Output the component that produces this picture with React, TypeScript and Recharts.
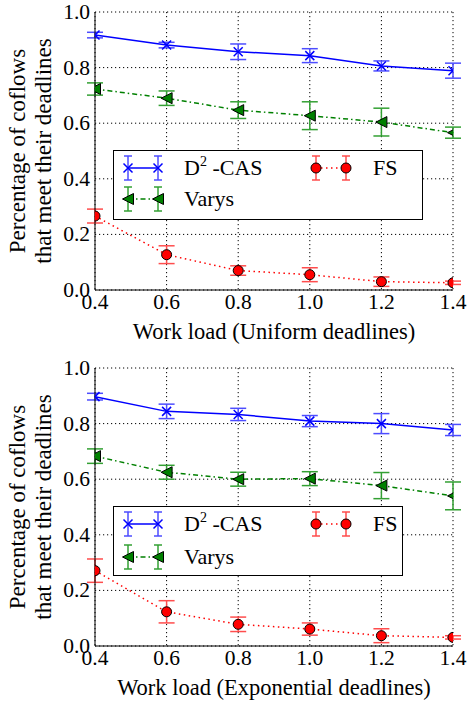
import React from 'react';
import { LineChart, Line, XAxis, YAxis, CartesianGrid, ErrorBar, Legend, Label } from 'recharts';

const FONT = "'Liberation Serif', 'Times New Roman', serif";

const loads = [0.4, 0.6, 0.8, 1.0, 1.2, 1.4];
const xTicks = [0.4, 0.6, 0.8, 1.0, 1.2, 1.4];
const yTicks = [0, 0.2, 0.4, 0.6, 0.8, 1.0];

// uniform deadlines
const uniCas = [0.917, 0.881, 0.857, 0.843, 0.806, 0.789];
const uniCasErr = [0.01, 0.01, 0.028, 0.025, 0.018, 0.027];
const uniVarys = [0.723, 0.69, 0.647, 0.627, 0.604, 0.566];
const uniVarysErr = [0.022, 0.026, 0.03, 0.05, 0.05, 0.02];
const uniFs = [0.266, 0.127, 0.07, 0.055, 0.03, 0.026];
const uniFsErr = [0.025, 0.032, 0.017, 0.025, 0.017, 0.006];

// exponential deadlines
const expCas = [0.897, 0.844, 0.833, 0.809, 0.8, 0.777];
const expCasErr = [0.012, 0.026, 0.022, 0.02, 0.036, 0.02];
const expVarys = [0.683, 0.625, 0.6, 0.602, 0.577, 0.54];
const expVarysErr = [0.026, 0.025, 0.025, 0.025, 0.047, 0.05];
const expFs = [0.271, 0.123, 0.078, 0.061, 0.037, 0.031];
const expFsErr = [0.042, 0.04, 0.026, 0.022, 0.025, 0.006];

const BLUE = '#0000ff';
const GREEN = '#008000';
const RED = '#ff0000';
const BLUE_ERR = '#4d4dff';
const GREEN_ERR = '#33a033';
const RED_ERR = '#ff4d4d';

const buildData = (cas: number[], casErr: number[], varys: number[], varysErr: number[], fs: number[], fsErr: number[]) =>
  loads.map((load, i) => ({
    load,
    cas: cas[i],
    casErr: casErr[i],
    varys: varys[i],
    varysErr: varysErr[i],
    fs: fs[i],
    fsErr: fsErr[i],
  }));

const uniformData = buildData(uniCas, uniCasErr, uniVarys, uniVarysErr, uniFs, uniFsErr);
const expData = buildData(expCas, expCasErr, expVarys, expVarysErr, expFs, expFsErr);

const textStyle: React.CSSProperties = { fontFamily: FONT, fill: '#000' };

// marker shapes
const crossPath = (cx: number, cy: number, s: number) =>
  `M${cx - s},${cy - s}L${cx + s},${cy + s}M${cx - s},${cy + s}L${cx + s},${cy - s}`;

const CrossDot = (props: any) => {
  const { cx, cy, index } = props;
  if (cx == null || cy == null) return <g key={`x-${index}`} />;
  return <path key={`x-${index}`} d={crossPath(cx, cy, 4.5)} stroke={BLUE} strokeWidth={1.5} fill="none" />;
};

const triPoints = (cx: number, cy: number, s: number) =>
  `${cx - s},${cy} ${cx + s},${cy - s} ${cx + s},${cy + s}`;

const TriDot = (props: any) => {
  const { cx, cy, index } = props;
  if (cx == null || cy == null) return <g key={`t-${index}`} />;
  return <polygon key={`t-${index}`} points={triPoints(cx, cy, 5.5)} fill={GREEN} stroke="#000" strokeWidth={1} />;
};

const CircleDot = (props: any) => {
  const { cx, cy, index } = props;
  if (cx == null || cy == null) return <g key={`c-${index}`} />;
  return <circle key={`c-${index}`} cx={cx} cy={cy} r={5} fill={RED} stroke="#000" strokeWidth={1} />;
};

const XTick = (props: any) => {
  const { x, y, payload } = props;
  return (
    <text x={x} y={y + 19} textAnchor="middle" style={{ ...textStyle, fontSize: 21.5 }}>
      {Number(payload.value).toFixed(1)}
    </text>
  );
};

const YTick = (props: any) => {
  const { x, y, payload } = props;
  return (
    <text x={x} y={y + 7} textAnchor="end" style={{ ...textStyle, fontSize: 21.5 }}>
      {Number(payload.value).toFixed(1)}
    </text>
  );
};

// legend sample: line with two markers and two error bars
function Sample({ kind }: { kind: 'cas' | 'varys' | 'fs' }) {
  const a = 10;
  const b = 40;
  const y = 15;
  const color = kind === 'cas' ? BLUE : kind === 'varys' ? GREEN : RED;
  const errColor = kind === 'cas' ? BLUE_ERR : kind === 'varys' ? GREEN_ERR : RED_ERR;
  const dash = kind === 'cas' ? undefined : kind === 'varys' ? '5 3 1.5 3' : '1.5 3.5';
  return (
    <svg width={50} height={30} style={{ display: 'block' }}>
      <line x1={a} y1={y} x2={b} y2={y} stroke={color} strokeWidth={1.5} strokeDasharray={dash} />
      {[a, b].map((x) => (
        <g key={x}>
          <line x1={x} y1={y - 12} x2={x} y2={y + 12} stroke={errColor} strokeWidth={1.5} />
          <line x1={x - 4} y1={y - 12} x2={x + 4} y2={y - 12} stroke={errColor} strokeWidth={1.5} />
          <line x1={x - 4} y1={y + 12} x2={x + 4} y2={y + 12} stroke={errColor} strokeWidth={1.5} />
          {kind === 'cas' && <path d={crossPath(x, y, 4.5)} stroke={BLUE} strokeWidth={1.5} />}
          {kind === 'varys' && <polygon points={triPoints(x, y, 5.5)} fill={GREEN} stroke="#000" />}
          {kind === 'fs' && <circle cx={x} cy={y} r={5} fill={RED} stroke="#000" />}
        </g>
      ))}
    </svg>
  );
}

function LegendBox({ width, row1, row2 }: { width: number; row1: number; row2: number }) {
  const text: React.CSSProperties = {
    position: 'absolute',
    fontFamily: FONT,
    fontSize: 22,
    lineHeight: '26px',
    color: '#000',
    whiteSpace: 'nowrap',
  };
  return (
    <div
      style={{
        position: 'relative',
        width,
        height: 70,
        boxSizing: 'border-box',
        border: '1px solid #000',
        background: '#fff',
      }}
    >
      <div style={{ position: 'absolute', left: 4, top: row1 - 15 }}><Sample kind="cas" /></div>
      <div style={{ ...text, left: 70, top: row1 - 13 }}>
        D<sup style={{ fontSize: 14, verticalAlign: 'top', lineHeight: '14px' }}>2</sup> -CAS
      </div>
      <div style={{ position: 'absolute', left: 4, top: row2 - 15 }}><Sample kind="varys" /></div>
      <div style={{ ...text, left: 70, top: row2 - 13 }}>Varys</div>
      <div style={{ position: 'absolute', left: 192, top: row1 - 15 }}><Sample kind="fs" /></div>
      <div style={{ ...text, left: 259, top: row1 - 13 }}>FS</div>
    </div>
  );
}

const YLabel = (props: any) => {
  const vb = props.viewBox || { x: 0, y: 0, width: 95, height: 278 };
  const cy = vb.y + vb.height / 2;
  const style = { ...textStyle, fontSize: 23 };
  return (
    <g>
      <text transform={`translate(25, ${cy}) rotate(-90)`} textAnchor="middle" style={style}>
        Percentage of coflows
      </text>
      <text transform={`translate(51, ${cy}) rotate(-90)`} textAnchor="middle" style={style}>
        that meet their deadlines
      </text>
    </g>
  );
};

const XLabel = (props: any) => {
  const vb = props.viewBox || { x: 95, y: 290, width: 358, height: 60 };
  return (
    <text x={vb.x + vb.width / 2} y={vb.y + 49} textAnchor="middle" style={{ ...textStyle, fontSize: 22.5 }}>
      {props.text}
    </text>
  );
};

interface PanelProps {
  data: any[];
  xlabel: string;
  height: number;
  marginTop: number;
  legendTop: number;
  legendWidth: number;
  row1: number;
  row2: number;
}

function Panel({ data, xlabel, height, marginTop, legendTop, legendWidth, row1, row2 }: PanelProps) {
  return (
    <LineChart width={467} height={height} data={data} margin={{ top: marginTop, right: 14, bottom: 0, left: 0 }}>
      <CartesianGrid stroke="#000" strokeDasharray="1.2 2.8" strokeWidth={1} />
      <XAxis
        dataKey="load"
        type="number"
        domain={[0.4, 1.4]}
        ticks={xTicks}
        allowDataOverflow
        tick={XTick}
        tickLine={false}
        tickSize={0}
        tickMargin={0}
        stroke="#000"
        height={60}
      >
        <Label content={(p: any) => <XLabel {...p} text={xlabel} />} />
      </XAxis>
      <XAxis
        xAxisId="top"
        orientation="top"
        type="number"
        domain={[0.4, 1.4]}
        ticks={xTicks}
        allowDataOverflow
        tick={false}
        tickLine={false}
        stroke="#000"
        height={0}
      />
      <YAxis
        type="number"
        domain={[0, 1]}
        ticks={yTicks}
        allowDataOverflow
        tick={YTick}
        tickLine={false}
        tickSize={0}
        tickMargin={5}
        stroke="#000"
        width={95}
      >
        <Label content={YLabel} />
      </YAxis>
      <YAxis
        yAxisId="right"
        orientation="right"
        type="number"
        domain={[0, 1]}
        ticks={yTicks}
        allowDataOverflow
        tick={false}
        tickLine={false}
        stroke="#000"
        width={0}
      />
      <Line dataKey="fs" stroke={RED} strokeWidth={1.5} strokeDasharray="1.5 3.5" dot={CircleDot} isAnimationActive={false}>
        <ErrorBar dataKey="fsErr" direction="y" width={8} stroke={RED_ERR} strokeWidth={1.5} isAnimationActive={false} />
      </Line>
      <Line dataKey="varys" stroke={GREEN} strokeWidth={1.5} strokeDasharray="5 3 1.5 3" dot={TriDot} isAnimationActive={false}>
        <ErrorBar dataKey="varysErr" direction="y" width={8} stroke={GREEN_ERR} strokeWidth={1.5} isAnimationActive={false} />
      </Line>
      <Line dataKey="cas" stroke={BLUE} strokeWidth={1.5} dot={CrossDot} isAnimationActive={false}>
        <ErrorBar dataKey="casErr" direction="y" width={8} stroke={BLUE_ERR} strokeWidth={1.5} isAnimationActive={false} />
      </Line>
      <Legend
        layout="vertical"
        align="center"
        verticalAlign="middle"
        content={() => <LegendBox width={legendWidth} row1={row1} row2={row2} />}
        wrapperStyle={{ left: 113, top: legendTop, width: legendWidth, height: 70 }}
      />
    </LineChart>
  );
}

export default function App() {
  return (
    <div style={{ position: 'absolute', left: 0, top: 0, width: 467, height: 706, background: '#fff', fontFamily: FONT }}>
      <div style={{ position: 'absolute', left: 0, top: 0 }}>
        <Panel
          data={uniformData}
          xlabel="Work load (Uniform deadlines)"
          height={350}
          marginTop={12}
          legendTop={150}
          legendWidth={310}
          row1={17}
          row2={48}
        />
      </div>
      <div style={{ position: 'absolute', left: 0, top: 350 }}>
        <Panel
          data={expData}
          xlabel="Work load (Exponential deadlines)"
          height={356}
          marginTop={18}
          legendTop={156}
          legendWidth={290}
          row1={17}
          row2={50}
        />
      </div>
    </div>
  );
}
